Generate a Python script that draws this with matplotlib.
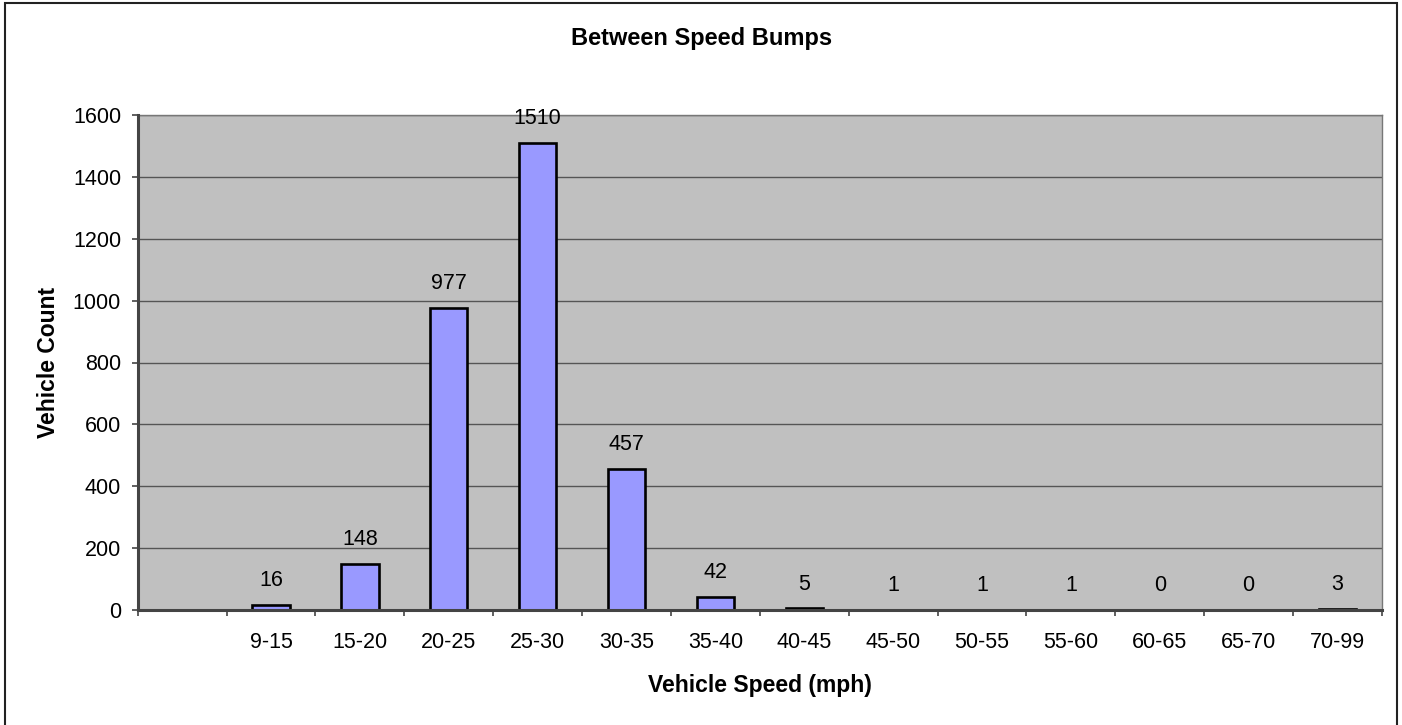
import matplotlib
matplotlib.use("Agg")
import matplotlib.pyplot as plt
from matplotlib.ticker import FixedLocator, MultipleLocator
from matplotlib.patches import Rectangle

categories = ["", "9-15", "15-20", "20-25", "25-30", "30-35", "35-40", "40-45",
              "45-50", "50-55", "55-60", "60-65", "65-70", "70-99"]
counts = [None, 16, 148, 977, 1510, 457, 42, 5, 1, 1, 1, 0, 0, 3]

plt.rcParams['font.family'] = ['Liberation Sans', 'DejaVu Sans']

fig = plt.figure(figsize=(14.02, 7.25), dpi=100)
fig.patch.set_facecolor('white')
# outer chart border
fig.patches.append(Rectangle((5/1402, -0.01), (1397-5)/1402, 1.01 - 3/725,
                             transform=fig.transFigure, fill=False,
                             edgecolor='#222222', linewidth=1.5))

ax = fig.add_axes([137.7/1402, 1-610/725, (1382-137.7)/1402, (610-115)/725])
ax.set_facecolor('#C0C0C0')

xs = [i for i, v in enumerate(counts) if v is not None]
vals = [v for v in counts if v is not None]
ax.bar(xs, vals, width=0.42, color='#9999FF', edgecolor='black', linewidth=1.9, zorder=3)

for x, v in zip(xs, vals):
    ax.annotate(str(v), (x, v), xytext=(0, 10), textcoords='offset points',
                ha='center', va='bottom', fontsize=15.5, color='black')

ax.set_xlim(-0.5, len(categories) - 0.5)
ax.set_ylim(0, 1600)
ax.yaxis.set_major_locator(MultipleLocator(200))
ax.yaxis.grid(True, color='#555555', linewidth=1.0, zorder=1)
ax.set_axisbelow(True)

ax.set_xticks(range(len(categories)))
ax.set_xticklabels(categories, fontsize=15.5)
ax.xaxis.set_minor_locator(FixedLocator([i - 0.5 for i in range(len(categories) + 1)]))
ax.tick_params(axis='x', which='major', length=0, pad=16)
ax.tick_params(axis='x', which='minor', length=4.3, width=1.2, color='#444444', direction='out')
ax.tick_params(axis='y', which='major', length=4.3, width=1.2, color='#444444',
               labelsize=15.5, pad=7.7)

for s in ['left', 'bottom']:
    ax.spines[s].set_color('#444444')
    ax.spines[s].set_linewidth(2.2)
    ax.spines[s].set_zorder(4)
for s in ['top', 'right']:
    ax.spines[s].set_color('#777777')
    ax.spines[s].set_linewidth(1.0)

fig.text(702/1402, 1 - 38/725, "Between Speed Bumps", fontsize=17, fontweight='bold',
         ha='center', va='center')
ax.set_ylabel("Vehicle Count", fontsize=16.5, fontweight='bold', labelpad=9)
ax.set_xlabel("Vehicle Speed (mph)", fontsize=16.5, fontweight='bold', labelpad=15)

fig.savefig("out.png", dpi=100)
